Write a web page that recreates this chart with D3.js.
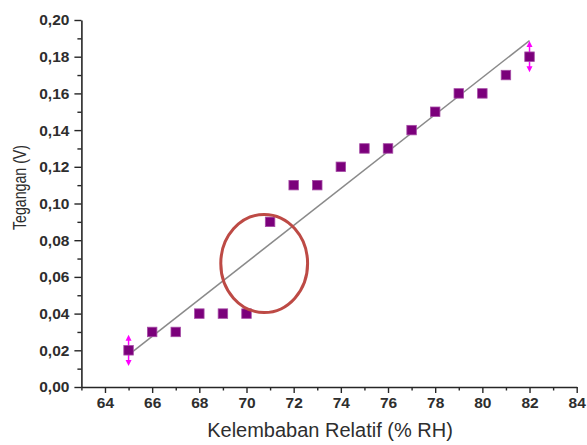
<!DOCTYPE html>
<html>
<head>
<meta charset="utf-8">
<script src="https://cdn.jsdelivr.net/npm/d3@7"></script>
<style>
    html, body { margin: 0; padding: 0; background: #fff; }
    svg { display: block; font-family: "Liberation Sans", Arial, sans-serif; }
</style>
</head>
<body>
<div id="chart"></div>
<script>
// Kelembaban relatif (% RH) vs tegangan (V)
const humidity = [65, 66, 67, 68, 69, 70, 71, 72, 73, 74, 75, 76, 77, 78, 79, 80, 81, 82]
const voltage = [0.02, 0.03, 0.03, 0.04, 0.04, 0.04, 0.09, 0.11, 0.11, 0.12, 0.13, 0.13, 0.14, 0.15, 0.16, 0.16, 0.17, 0.18]
// error bars only drawn on the first and last point
const errorPoints = [65, 82]
const errorSize = [0.0085, 0.0085]
// linear fit endpoints
const fitX = [65, 82]
const fitY = [0.0175, 0.1888]
// highlighted region (ellipse) in data units: cx, cy, rx, ry
const highlight = [70.75, 0.0673, 1.84, 0.0267]

const xTicks = [64, 66, 68, 70, 72, 74, 76, 78, 80, 82, 84]
const xMinor = [63, 65, 67, 69, 71, 73, 75, 77, 79, 81, 83]
const yTicks = [0, 0.02, 0.04, 0.06, 0.08, 0.10, 0.12, 0.14, 0.16, 0.18, 0.20]
const yMinor = [0.01, 0.03, 0.05, 0.07, 0.09, 0.11, 0.13, 0.15, 0.17, 0.19]

const width = 587
const height = 445
const axisColor = '#262626'
const textColor = '#2e2e2e'

const svg = d3.select('#chart').append('svg')
    .attr('width', width).attr('height', height)

const x = d3.scaleLinear().domain([63, 84]).range([81.4, 576.7])
const y = d3.scaleLinear().domain([0, 0.20]).range([387, 20])

const fmtY = v => d3.format('.2f')(v).replace('.', ',')

// X axis
const gx = svg.append('g').attr('transform', `translate(0,${y(0)})`)
gx.call(d3.axisBottom(x).tickValues(xTicks).tickSize(6).tickSizeOuter(0).tickPadding(4).tickFormat(d3.format('d')))
gx.append('g').call(d3.axisBottom(x).tickValues(xMinor).tickSize(3.5).tickSizeOuter(0).tickFormat(''))
    .select('.domain').remove()

// Y axis
const gy = svg.append('g').attr('transform', `translate(${x(63)},0)`)
gy.call(d3.axisLeft(y).tickValues(yTicks).tickSize(7).tickSizeOuter(0).tickPadding(5).tickFormat(fmtY))
gy.append('g').call(d3.axisLeft(y).tickValues(yMinor).tickSize(4).tickSizeOuter(0).tickFormat(''))
    .select('.domain').remove()

svg.selectAll('.domain').attr('stroke', axisColor).attr('stroke-width', 1.6)
svg.selectAll('.tick line').attr('stroke', axisColor).attr('stroke-width', 1.4)
svg.selectAll('.tick text')
    .attr('fill', textColor).attr('font-size', '15.5px').attr('font-weight', 'bold')
    .attr('font-family', '"Liberation Sans", Arial, sans-serif')

// Axis titles
svg.append('text')
    .attr('x', 330).attr('y', 437)
    .attr('text-anchor', 'middle')
    .attr('fill', textColor).attr('font-size', '20px')
    .text('Kelembaban Relatif (% RH)')

svg.append('text')
    .attr('transform', 'translate(26,187.5) rotate(-90)')
    .attr('text-anchor', 'middle')
    .attr('fill', textColor).attr('font-size', '19px')
    .attr('textLength', 85).attr('lengthAdjust', 'spacingAndGlyphs')
    .text('Tegangan (V)')

// Linear fit
svg.append('line')
    .attr('x1', x(fitX[0])).attr('y1', y(fitY[0]))
    .attr('x2', x(fitX[1])).attr('y2', y(fitY[1]))
    .attr('stroke', '#8a8a8a').attr('stroke-width', 1.5)

// Error bars (arrow style)
const errColor = '#ff00ff'
errorPoints.forEach((hx, i) => {
    const idx = humidity.indexOf(hx)
    const cx = x(hx)
    const top = y(voltage[idx] + errorSize[i])
    const bot = y(voltage[idx] - errorSize[i])
    svg.append('line')
        .attr('x1', cx).attr('x2', cx).attr('y1', top + 4).attr('y2', bot - 4)
        .attr('stroke', errColor).attr('stroke-width', 1.5)
    svg.append('path')
        .attr('d', `M${cx},${top} L${cx - 3},${top + 6} L${cx + 3},${top + 6} Z`)
        .attr('fill', errColor)
    svg.append('path')
        .attr('d', `M${cx},${bot} L${cx - 3},${bot - 6} L${cx + 3},${bot - 6} Z`)
        .attr('fill', errColor)
})

// Data points
const ms = 9.5
svg.selectAll('.pt')
    .data(humidity).enter()
    .append('rect')
    .attr('x', (d, i) => x(d) - ms / 2)
    .attr('y', (d, i) => y(voltage[i]) - ms / 2)
    .attr('width', ms).attr('height', ms)
    .attr('fill', '#7b007b')
    .attr('stroke', '#a64ca6').attr('stroke-width', 0.8)

// Highlight ellipse
svg.append('ellipse')
    .attr('cx', x(highlight[0])).attr('cy', y(highlight[1]))
    .attr('rx', x(highlight[0] + highlight[2]) - x(highlight[0]))
    .attr('ry', y(highlight[1]) - y(highlight[1] + highlight[3]))
    .attr('fill', 'none')
    .attr('stroke', '#bd4a45').attr('stroke-width', 3)
</script>
</body>
</html>
